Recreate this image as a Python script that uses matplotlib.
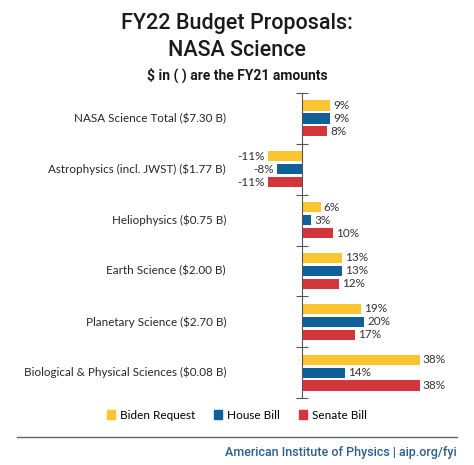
import matplotlib
matplotlib.use("Agg")
import matplotlib.pyplot as plt
import matplotlib.transforms as mtransforms
import numpy as np

categories = [
    "NASA Science Total ($7.30 B)",
    "Astrophysics (incl. JWST) ($1.77 B)",
    "Heliophysics ($0.75 B)",
    "Earth Science ($2.00 B)",
    "Planetary Science ($2.70 B)",
    "Biological & Physical Sciences ($0.08 B)",
]
series_names = ["Biden Request", "House Bill", "Senate Bill"]
biden = [9, -11, 6, 13, 19, 38]
house = [9, -8, 3, 13, 20, 14]
senate = [8, -11, 10, 12, 17, 38]
colors = ["#FBC531", "#0F5F98", "#D2363A"]

body_font = ["Lato", "DejaVu Sans"]
head_font = ["Roboto", "DejaVu Sans"]

fig = plt.figure(figsize=(4.74, 4.65), dpi=100)
W, H = 474, 465
# axes: x from 240 to 440 px, y from 93 to 398 px (from top)
ax = fig.add_axes([240 / W, (H - 398) / H, 200 / W, 305 / H])

y = np.arange(len(categories))
offsets = [-0.255, 0.0, 0.255]
for vals, off, col in zip([biden, house, senate], offsets, colors):
    bars = ax.barh(y + off, vals, height=0.2, color=col)
    for b, v in zip(bars, vals):
        yc = b.get_y() + b.get_height() / 2
        if v >= 0:
            ax.text(v + 1.0, yc, f"{v}%", va="center", ha="left",
                    fontsize=8.5, color="#333333", family=body_font)
        else:
            ax.text(v - 1.0, yc, f"{v}%", va="center", ha="right",
                    fontsize=8.5, color="#333333", family=body_font)

ax.set_xlim(-(302 - 240) / 3.1, (440 - 302) / 3.1)
ax.set_ylim(len(categories) - 0.5, -0.5)

for s in ["top", "right", "bottom"]:
    ax.spines[s].set_visible(False)
ax.spines["left"].set_position(("data", 0))
ax.spines["left"].set_color("#555555")
ax.set_xticks([])
ax.set_yticks(np.arange(len(categories) + 1) - 0.5)
ax.set_yticklabels([])
ax.tick_params(axis="y", direction="inout", length=8, color="#555555")

# category labels, right-aligned at x = 226 px
trans = mtransforms.blended_transform_factory(fig.transFigure, ax.transData)
for yi, cat in zip(y, categories):
    ax.text(226 / W, yi, cat, transform=trans, ha="right", va="center",
            fontsize=8.4, color="#262626", family=body_font, clip_on=False)

fig.text(0.5, 1 - 24 / H, "FY22 Budget Proposals:", ha="center", va="center",
         fontsize=15.5, fontweight="medium", color="#1a1a1a", family=head_font)
fig.text(0.5, 1 - 50 / H, "NASA Science", ha="center", va="center",
         fontsize=15.5, fontweight="medium", color="#1a1a1a", family=head_font)
fig.text(0.5, 1 - 75 / H, "$ in ( ) are the FY21 amounts", ha="center",
         va="center", fontsize=10, fontweight="bold", color="#1a1a1a",
         family=head_font)

# legend
handles = [plt.Rectangle((0, 0), 1, 1, color=c) for c in colors]
fig.legend(handles, series_names, loc="center", bbox_to_anchor=(0.5, 1 - 415 / H),
           ncol=3, frameon=False, handlelength=0.7, handleheight=0.7,
           handletextpad=0.4, columnspacing=1.6,
           prop={"family": body_font, "size": 8.5})

fig.add_artist(plt.Line2D([17 / W, 457 / W], [1 - 437 / H, 1 - 437 / H],
                          color="#666666", lw=1))
fig.text(457 / W, 1 - 452 / H, "American Institute of Physics | aip.org/fyi",
         ha="right", va="center", fontsize=9, fontweight="medium",
         color="#2B5F8E", family=head_font)

fig.savefig("out.png", dpi=100)
